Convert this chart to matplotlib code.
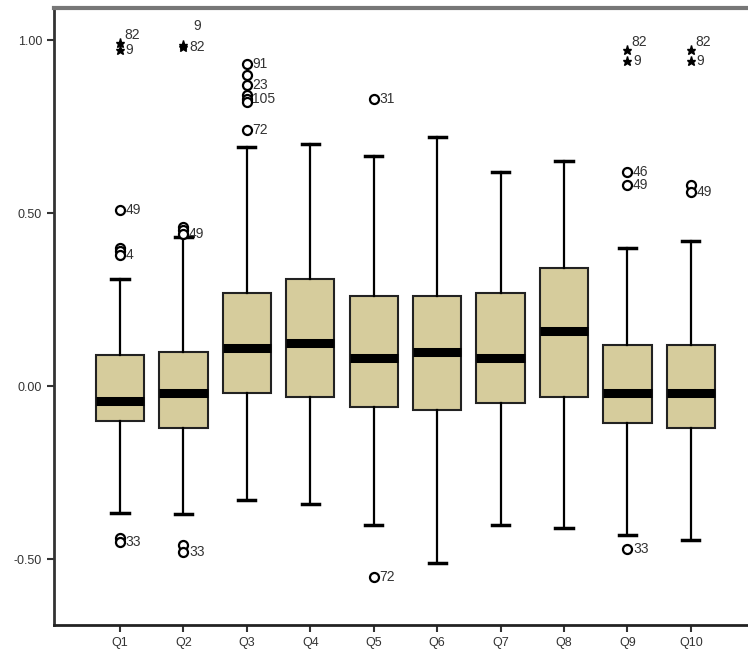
import matplotlib
matplotlib.use("Agg")
import matplotlib.pyplot as plt

categories = ["Q1", "Q2", "Q3", "Q4", "Q5", "Q6", "Q7", "Q8", "Q9", "Q10"]
q1_vals = [-0.10, -0.12, -0.02, -0.03, -0.06, -0.07, -0.05, -0.03, -0.105, -0.12]
medians = [-0.043, -0.02, 0.11, 0.125, 0.08, 0.10, 0.08, 0.16, -0.02, -0.02]
q3_vals = [0.09, 0.10, 0.27, 0.31, 0.26, 0.26, 0.27, 0.34, 0.12, 0.12]
whisk_lo = [-0.367, -0.37, -0.33, -0.34, -0.40, -0.51, -0.40, -0.41, -0.43, -0.445]
whisk_hi = [0.31, 0.43, 0.69, 0.70, 0.665, 0.72, 0.62, 0.65, 0.40, 0.42]

# outliers: (category index, value, marker type, label)
out_cat = [0, 0, 0, 0, 0, 0, 0, 0,
           1, 1, 1, 1, 1, 1, 1,
           2, 2, 2, 2, 2, 2, 2,
           4, 4,
           8, 8, 8, 8, 8,
           9, 9, 9, 9]
out_val = [0.99, 0.97, 0.51, 0.40, 0.39, 0.38, -0.44, -0.45,
           0.985, 0.98, 0.46, 0.45, 0.44, -0.46, -0.48,
           0.93, 0.90, 0.87, 0.84, 0.83, 0.82, 0.74,
           0.83, -0.55,
           0.97, 0.94, 0.62, 0.58, -0.47,
           0.97, 0.94, 0.58, 0.56]
out_kind = ["*", "*", "o", "o", "o", "o", "o", "o",
            "*", "*", "o", "o", "o", "o", "o",
            "o", "o", "o", "o", "o", "o", "o",
            "o", "o",
            "*", "*", "o", "o", "o",
            "*", "*", "o", "o"]
out_label = ["82", "9", "49", "", "", "4", "", "33",
             "9", "82", "", "", "49", "", "33",
             "91", "", "23", "", "105", "", "72",
             "31", "72",
             "82", "9", "46", "49", "33",
             "82", "9", "", "49"]
# label placement style: 'r' right, 'ur' upper right, 'u' above
out_lpos = ["ur", "r", "r", "r", "r", "r", "r", "r",
            "u", "r", "r", "r", "r", "r", "r",
            "r", "r", "r", "r", "r", "r", "r",
            "r", "r",
            "ur", "r", "r", "r", "r",
            "ur", "r", "r", "r"]

fig = plt.figure(figsize=(7.48, 6.59), dpi=100)
ax = fig.add_axes([54 / 748, 34 / 659, 1 - 54 / 748, (625 - 8) / 659])

positions = list(range(1, len(categories) + 1))
stats = []
for i in range(len(categories)):
    stats.append(dict(med=medians[i], q1=q1_vals[i], q3=q3_vals[i],
                      whislo=whisk_lo[i], whishi=whisk_hi[i], fliers=[]))

ax.bxp(stats, positions=positions, widths=0.76, capwidths=0.27,
       patch_artist=True, showfliers=False,
       boxprops=dict(facecolor="#D6CC9C", edgecolor="#222222", linewidth=1.5),
       medianprops=dict(color="black", linewidth=6.5, solid_capstyle="butt"),
       whiskerprops=dict(color="black", linewidth=1.6),
       capprops=dict(color="black", linewidth=2.5))

lab_font = dict(family=["Liberation Sans Narrow", "Liberation Sans", "DejaVu Sans"],
                fontsize=10, color="#333333")
for c, v, k, lab, lp in zip(out_cat, out_val, out_kind, out_label, out_lpos):
    x = positions[c]
    if k == "o":
        ax.plot(x, v, marker="o", ms=6.5, mfc="white", mec="black", mew=1.6,
                linestyle="none", zorder=4)
    else:
        ax.plot(x, v, marker="*", ms=6.5, color="black", linestyle="none", zorder=4)
    if lab:
        if lp == "r":
            ax.annotate(lab, (x, v), xytext=(4, 0), textcoords="offset points",
                        ha="left", va="center", **lab_font)
        elif lp == "ur":
            ax.annotate(lab, (x, v), xytext=(3, 6), textcoords="offset points",
                        ha="left", va="center", **lab_font)
        else:
            ax.annotate(lab, (x, v), xytext=(7, 14), textcoords="offset points",
                        ha="left", va="center", **lab_font)

ax.set_xlim(-0.04, 10.9)
ax.set_ylim(-0.69, 1.0925)
ax.set_yticks([-0.5, 0.0, 0.5, 1.0])
ax.set_yticklabels(["-0.50", "0.00", "0.50", "1.00"])
ax.set_xticks(positions)
ax.set_xticklabels(categories)
tick_font = ["Liberation Sans", "DejaVu Sans"]
for t in ax.get_xticklabels() + ax.get_yticklabels():
    t.set_family(tick_font)
    t.set_fontsize(9)
    t.set_color("#333333")
ax.tick_params(axis="both", length=5, width=1.5, color="#333333")
ax.spines["left"].set_linewidth(2)
ax.spines["bottom"].set_linewidth(2)
ax.spines["left"].set_color("#333333")
ax.spines["bottom"].set_color("#222222")
ax.spines["top"].set_linewidth(3)
ax.spines["top"].set_color("#777777")
ax.spines["right"].set_visible(False)

fig.savefig("out.png", dpi=100)
